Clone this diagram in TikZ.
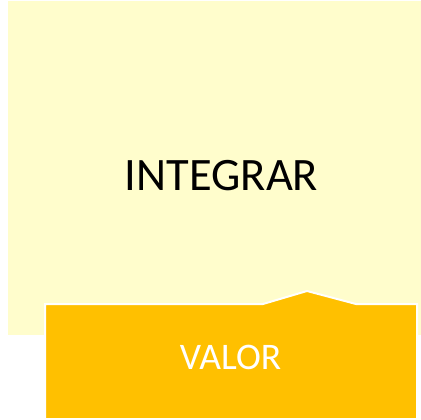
\documentclass[tikz,border=0pt]{standalone}
\usepackage{fontspec}
\setmainfont{Carlito}
\definecolor{integrarfill}{HTML}{FFFDCC}
\definecolor{valorfill}{HTML}{FFC000}

\begin{document}
\begin{tikzpicture}[x=1pt, y=-1pt]
      \useasboundingbox (0,0) rectangle (421,420);
      \node[draw=none, fill=integrarfill, rectangle, inner sep=0pt, minimum width=413pt, minimum height=334pt, anchor=north west] (B1) at (8,1) {};
      %
      \draw[draw=white, line width=2pt, fill=valorfill] (45,304) -- (263,304) -- (307,291) -- (356,304) -- (417,304) -- (417,419) -- (45,419) -- cycle;
      %
      \node[text=black, inner sep=0pt, anchor=base, font=\fontsize{46.5}{56}\selectfont] (T1) at (221.5,190) {INTEGRAR};
      \node[text=white, inner sep=0pt, anchor=base, font=\fontsize{37.5}{45}\selectfont] (T2) at (230.5,369) {VALOR};
    \end{tikzpicture}
\end{document}
